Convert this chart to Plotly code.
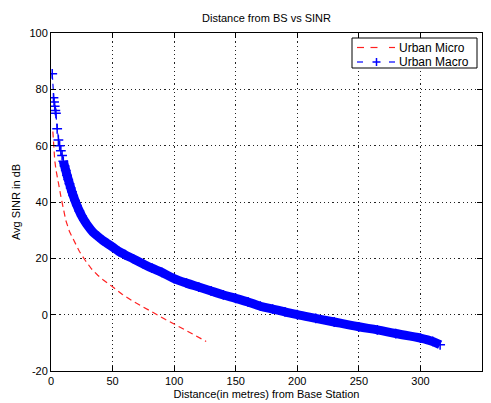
import plotly.graph_objects as go

# Urban Micro (red dashed)
micro_d = [1.5, 2, 3, 4, 5, 6, 7, 8, 9, 10, 12, 15, 19.5, 23, 27.6, 33, 38, 42.5, 50,
           58, 66, 75, 86, 93, 100, 108, 115, 121, 126]
micro_sinr = [65, 60, 55, 51.5, 49.5, 47, 44.5, 42, 39.5, 37.5, 33.5, 29.5, 25.3, 22.5,
              19.4, 16.2, 14, 12.3, 9.9, 7.2, 4.9, 2.6, 0, -1.7, -3.3, -5.2, -6.9, -8.2,
              -9.5]

# Urban Macro (blue dashed with + markers)
macro_d = [1, 2, 2.5, 3, 3.5, 4, 5, 6, 7, 8, 9, 10, 11, 12, 13, 14, 15, 16, 17, 18,
           19.5, 21, 23, 25, 27, 30, 34, 38, 42, 46, 50, 55, 60, 67, 75, 82, 90, 100,
           110, 120, 130, 140, 150, 160, 170, 180, 190, 200, 215, 230, 250, 265, 280,
           300, 310, 316]
macro_sinr = [85.5, 77, 75.5, 74, 72.5, 71.5, 66, 62, 60, 58.2, 56.5, 54.5, 52.8, 51.2,
              49.5, 48, 46.5, 45, 43.6, 42.3, 40.5, 38.8, 36.8, 35, 33.5, 31.5, 29.3, 27.8,
              26.4, 25.2, 24, 22.5, 21.3, 19.8, 18, 16.5, 15, 12.8, 11.2, 9.8, 8.4, 7, 5.8,
              4.5, 3.0, 2.0, 1.0, 0, -1.3, -2.6, -4.3, -5.4, -6.7, -8.3, -9.5, -10.7]

x_ticks = [0, 50, 100, 150, 200, 250, 300, 350]
y_ticks = [-20, 0, 20, 40, 60, 80, 100]
legend_labels = ["Urban Micro", "Urban Macro"]

FONT = "Liberation Sans, Arial, Helvetica, sans-serif"
BLUE = "#0000ff"
RED = "#ff2020"

# target geometry in screenshot pixels; page body adds an 8px offset
OFF = 8
SW, SH = 491, 403
L, R, T, B = 51, 482, 33, 371
W, H = SW - OFF, SH - OFF


def px(xp):
    return (xp - L) / (R - L)


def py(yp):
    return (B - yp) / (B - T)


fig = go.Figure()

fig.add_trace(go.Scatter(
    x=micro_d, y=micro_sinr, mode="lines", name=legend_labels[0],
    line=dict(color=RED, width=1.2, dash="6px,4px"), showlegend=False,
))

band_start = 11
fig.add_trace(go.Scatter(
    x=macro_d[band_start:], y=macro_sinr[band_start:], mode="lines",
    line=dict(color=BLUE, width=9, shape="spline"), showlegend=False, hoverinfo="skip",
))

fig.add_trace(go.Scatter(
    x=macro_d, y=macro_sinr, mode="lines+markers", name=legend_labels[1],
    line=dict(color=BLUE, width=1.2, dash="6px,4px"),
    marker=dict(symbol="cross-thin", size=7, line=dict(color=BLUE, width=1.5)),
    showlegend=False,
))

axis_common = dict(
    showline=True, linecolor="black", linewidth=1, mirror="allticks",
    ticks="inside", ticklen=5, tickcolor="black", tickwidth=1,
    showgrid=True, gridcolor="#222222", griddash="1.2px,3px", gridwidth=1.2,
    zeroline=False, tickfont=dict(family=FONT, size=11, color="black"),
    automargin=False,
)

fig.update_xaxes(range=[0, 350], tickvals=x_ticks, ticktext=[str(v) for v in x_ticks],
                 title=dict(text="Distance(in metres) from Base Station",
                            font=dict(family=FONT, size=11, color="black"), standoff=4),
                 **axis_common)
fig.update_yaxes(range=[-20, 100], tickvals=y_ticks, ticktext=[str(v) for v in y_ticks],
                 title=dict(text="Avg SINR in dB",
                            font=dict(family=FONT, size=11, color="black"), standoff=6),
                 **axis_common)

# manual legend (box, samples, labels)
shapes = [
    dict(type="rect", xref="paper", yref="paper", x0=px(352), x1=px(477), y0=py(68), y1=py(38),
         line=dict(color="black", width=1), fillcolor="white", layer="above"),
]
y_micro, y_macro = 47.5, 62
for (a, b) in [(357, 364), (370.5, 377.5), (389, 395)]:
    shapes.append(dict(type="line", xref="paper", yref="paper", x0=px(a), x1=px(b),
                       y0=py(y_micro), y1=py(y_micro), line=dict(color=RED, width=1.2),
                       layer="above"))
for (a, b) in [(357, 363), (389, 395)]:
    shapes.append(dict(type="line", xref="paper", yref="paper", x0=px(a), x1=px(b),
                       y0=py(y_macro), y1=py(y_macro), line=dict(color=BLUE, width=1.2),
                       layer="above"))
cx = 376.5
shapes.append(dict(type="line", xref="paper", yref="paper", x0=px(cx - 4), x1=px(cx + 4),
                   y0=py(y_macro), y1=py(y_macro), line=dict(color=BLUE, width=1.5),
                   layer="above"))
shapes.append(dict(type="line", xref="paper", yref="paper", x0=px(cx), x1=px(cx),
                   y0=py(y_macro - 4), y1=py(y_macro + 4), line=dict(color=BLUE, width=1.5),
                   layer="above"))

annotations = []
for lbl, yy in zip(legend_labels, [y_micro, y_macro]):
    annotations.append(dict(text=lbl, xref="paper", yref="paper", x=px(397), y=py(yy),
                            xanchor="left", yanchor="middle", showarrow=False,
                            font=dict(family=FONT, size=12, color="black")))

fig.update_layout(
    width=W, height=H,
    margin=dict(l=L - OFF, r=SW - R, t=T - OFF, b=SH - B),
    paper_bgcolor="white", plot_bgcolor="white",
    title=dict(text="Distance from BS vs SINR", x=0.5, xref="paper", xanchor="center",
               y=1 - 10 / H, yanchor="middle",
               font=dict(family=FONT, size=11, color="black")),
    shapes=shapes, annotations=annotations,
    showlegend=False,
)

fig.write_html("out.html")
